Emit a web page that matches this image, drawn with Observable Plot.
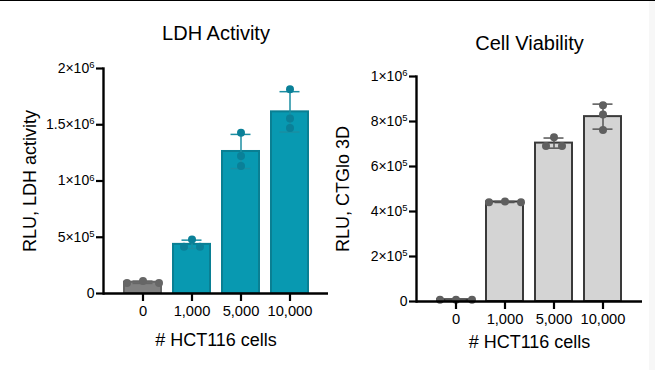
<!DOCTYPE html>
<html>
<head>
<meta charset="utf-8">
<script src="https://cdn.jsdelivr.net/npm/d3@7"></script>
<script src="https://cdn.jsdelivr.net/npm/@observablehq/plot@0.6"></script>
<style>
  html, body { margin: 0; padding: 0; background: #fff; }
  #wrap { position: relative; width: 655px; height: 370px; overflow: hidden; background: #fff; font-family: "Liberation Sans", Arial, sans-serif; }
  #topline { position: absolute; left: 0; top: 0; width: 655px; height: 1px; background: #000; }
  #strip { position: absolute; left: 649px; top: 1px; width: 6px; height: 369px; background: #f7f7f7; }
  .panel { position: absolute; top: 0; }
</style>
</head>
<body>
<div id="wrap">
  <div id="topline"></div>
  <div id="strip"></div>
  <div id="left" class="panel" style="left:0px"></div>
  <div id="right" class="panel" style="left:330px"></div>
</div>
<script>
// ---- data ----
const cats = ["0", "1,000", "5,000", "10,000"];

const ldhTitle = "LDH Activity";
const ldhYLabel = "RLU, LDH activity";
const ldhTicks = [0, 5e5, 1e6, 1.5e6, 2e6];
const ldhTickLabels = ["0", "5×10^5", "1×10^6", "1.5×10^6", "2×10^6"];
const ldhReplicates = [
  [94000, 112000, 94000],
  [480000, 415000, 415000],
  [1430000, 1223000, 1134000],
  [1816000, 1556000, 1472000]
];

const cvTitle = "Cell Viability";
const cvYLabel = "RLU, CTGlo 3D";
const cvTicks = [0, 2e5, 4e5, 6e5, 8e5, 1e6];
const cvTickLabels = ["0", "2×10^5", "4×10^5", "6×10^5", "8×10^5", "1×10^6"];
const cvReplicates = [
  [8000, 8000, 8000],
  [441000, 445000, 441000],
  [730000, 691000, 691000],
  [872000, 831000, 762000]
];

const xLabel = "# HCT116 cells";

// ---- helpers ----
function summarize(reps) {
  return cats.map((c, i) => {
    const v = reps[i];
    const m = d3.mean(v), s = d3.deviation(v);
    return {cat: c, mean: m, lo: m - s, hi: m + s};
  });
}

// simple beeswarm-like spreading of overlapping replicate dots
function spreadPoints(reps, ymax, plotH) {
  const out = [];
  cats.forEach((c, i) => {
    const vals = reps[i].slice().sort((a, b) => b - a);
    const placed = [];
    vals.forEach(v => {
      const py = v / ymax * plotH;
      for (const k of [0, -1, 1, -2, 2, -3, 3]) {
        const off = k * 8;
        if (placed.every(p => Math.hypot(off - p.off, py - p.py) >= 9)) {
          placed.push({off, py});
          out.push({cat: c, v, off});
          break;
        }
      }
    });
  });
  return out;
}

const FONT = "'Liberation Sans', Arial, sans-serif";

function panel(cfg) {
  const plotH = cfg.height - cfg.marginTop - cfg.marginBottom;
  const st = summarize(cfg.reps);
  const pts = spreadPoints(cfg.reps, cfg.ymax, plotH);
  const offsets = Array.from(new Set(pts.map(d => d.off)));
  const labelMap = new Map(cfg.ticks.map((t, i) => [t, cfg.tickLabels[i]]));
  const dotMarks = offsets.map(o =>
    Plot.dot(pts.filter(d => d.off === o), {
      x: "cat", y: "v", dx: o, r: 4, fill: cfg.dotColor, stroke: "none"
    })
  );
  const svg = Plot.plot({
    width: cfg.width,
    height: cfg.height,
    marginLeft: cfg.marginLeft,
    marginRight: cfg.marginRight,
    marginTop: cfg.marginTop,
    marginBottom: cfg.marginBottom,
    style: {fontFamily: FONT, fontSize: "13px", color: "#000", background: "transparent", overflow: "visible"},
    x: {domain: cats, paddingInner: 0.255, paddingOuter: 0.39, axis: null},
    y: {domain: [0, cfg.ymax], axis: null},
    marks: [
      Plot.barY(st, {x: "cat", y: "mean", fill: cfg.barFill, stroke: cfg.barStroke, strokeWidth: 2}),
      Plot.ruleX(st, {x: "cat", y1: "lo", y2: "hi", stroke: cfg.errColor, strokeWidth: 1.5}),
      Plot.tickY(st, {x: "cat", y: "hi", stroke: cfg.errColor, strokeWidth: 1.5, insetLeft: 8.5, insetRight: 8.5}),
      Plot.tickY(st, {x: "cat", y: "lo", stroke: cfg.errColor, strokeWidth: 1.5, insetLeft: 8.5, insetRight: 8.5}),
      ...dotMarks,
      Plot.frame({anchor: "left", stroke: "#000", strokeWidth: 2.4}),
      Plot.ruleY([0], {stroke: "#000", strokeWidth: 2.4}),
      Plot.axisY({ticks: cfg.ticks, tickFormat: d => labelMap.get(d), tickSize: 7, tickPadding: 2, strokeWidth: 2.2, fontSize: 14, label: null}),
      Plot.axisX({tickSize: 8, tickPadding: 4, strokeWidth: 2.2, fontSize: 14.7, label: null}),
      Plot.text([cfg.title], {text: d => d, frameAnchor: "top", dy: cfg.titleDy, fontSize: 20, fill: "#000", lineAnchor: "middle", textAnchor: "middle"}),
      Plot.text([cfg.yLabel], {text: d => d, frameAnchor: "left", dx: cfg.yLabelDx, rotate: -90, fontSize: 18, fill: "#000", lineAnchor: "middle", textAnchor: "middle"}),
      Plot.text([xLabel], {text: d => d, frameAnchor: "bottom", dy: cfg.xLabelDy, fontSize: 18, fill: "#000", lineAnchor: "middle", textAnchor: "middle"})
    ]
  });
  // render "a×10^n" tick labels with a real superscript
  d3.select(svg).selectAll('g[aria-label="y-axis tick label"] text').each(function() {
    const t = this.textContent;
    const k = t.indexOf("^");
    if (k < 0) return;
    const el = d3.select(this);
    el.text(null);
    el.append("tspan").text(t.slice(0, k));
    el.append("tspan").attr("dy", "-0.5em").attr("font-size", "9.5px").text(t.slice(k + 1));
  });
  return svg;
}

const teal = "#0899b1";
const tealDark = "#0a7f93";

const left = panel({
  width: 330, height: 370, marginLeft: 103, marginRight: 2, marginTop: 68, marginBottom: 77,
  ymax: 2e6, ticks: ldhTicks, tickLabels: ldhTickLabels, reps: ldhReplicates,
  title: ldhTitle, yLabel: ldhYLabel, titleDy: -35, yLabelDx: -73, xLabelDy: 47,
  barFill: d => d.cat === "0" ? "#808080" : teal,
  barStroke: d => d.cat === "0" ? "#666666" : tealDark,
  errColor: d => d.cat === "0" ? "#666666" : "#1b8ea2",
  dotColor: d => d.cat === "0" ? "#666666" : "#0a8098"
});
document.getElementById("left").appendChild(left);

const right = panel({
  width: 325, height: 370, marginLeft: 86, marginRight: 13, marginTop: 76, marginBottom: 69,
  ymax: 1e6, ticks: cvTicks, tickLabels: cvTickLabels, reps: cvReplicates,
  title: cvTitle, yLabel: cvYLabel, titleDy: -33, yLabelDx: -73, xLabelDy: 41,
  barFill: "#d4d4d4", barStroke: "#3a3a3a",
  errColor: "#555555", dotColor: "#5f5f5f"
});
document.getElementById("right").appendChild(right);
</script>
</body>
</html>
